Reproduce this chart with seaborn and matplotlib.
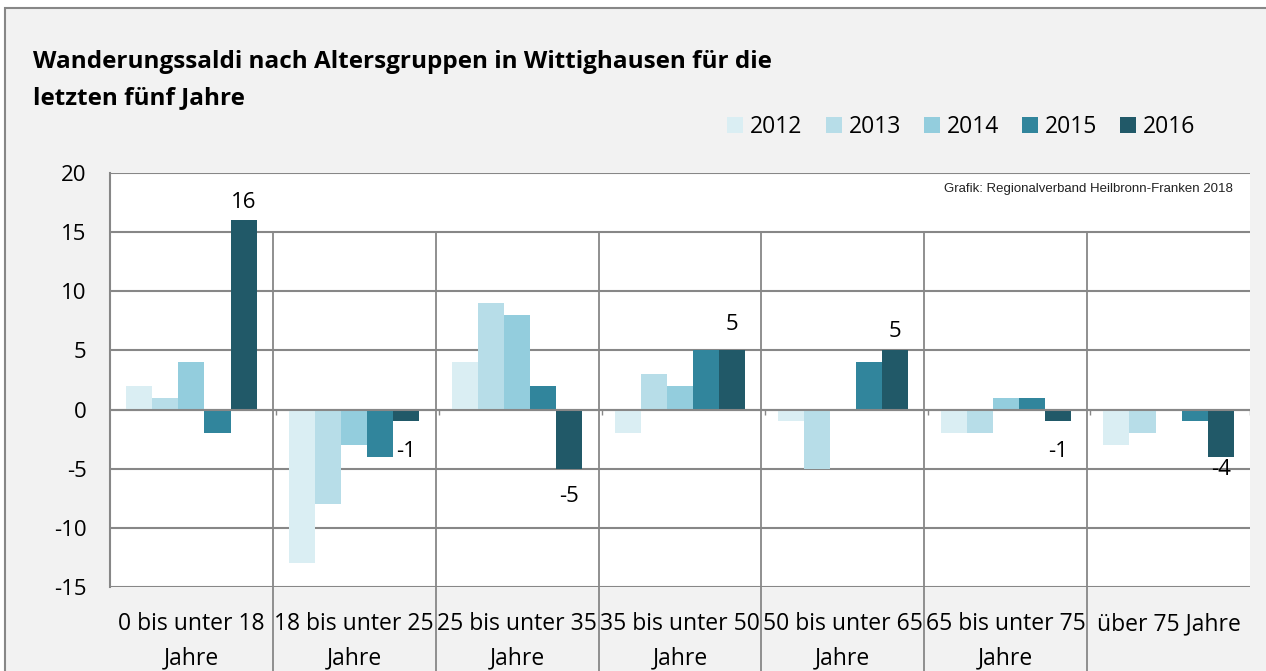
import seaborn as sns
import matplotlib.pyplot as plt
import pandas as pd
import numpy as np
from matplotlib.patches import Rectangle, Patch

# Data
groups = ["0 bis unter 18\nJahre", "18 bis unter 25\nJahre", "25 bis unter 35\nJahre",
          "35 bis unter 50\nJahre", "50 bis unter 65\nJahre", "65 bis unter 75\nJahre",
          "über 75 Jahre"]
years = ["2012", "2013", "2014", "2015", "2016"]
v2012 = [2, -13, 4, -2, -1, -2, -3]
v2013 = [1, -8, 9, 3, -5, -2, -2]
v2014 = [4, -3, 8, 2, 0, 1, 0]
v2015 = [-2, -4, 2, 5, 4, 1, -1]
v2016 = [16, -1, -5, 5, 5, -1, -4]
colors = ["#daeef3", "#b7dde8", "#93cddd", "#31859c", "#215968"]
# vertical pixel offsets of the 2016 value labels (as placed in the original)
label_offsets = [18, -30, -28, 26, 19, -30, -13]

rows = []
for year, vals in zip(years, [v2012, v2013, v2014, v2015, v2016]):
    for g, v in zip(groups, vals):
        rows.append({"Gruppe": g, "Jahr": year, "Saldo": v})
df = pd.DataFrame(rows)

sns.set_style("white")
plt.rcParams["font.family"] = ["Open Sans", "DejaVu Sans"]
plt.rcParams["axes.unicode_minus"] = False
plt.rcParams["text.color"] = "black"
plt.rcParams["xtick.labelcolor"] = "black"
plt.rcParams["ytick.labelcolor"] = "black"

grid_col = "#878787"

fig = plt.figure(figsize=(12.66, 6.71), dpi=100, facecolor="white")
fig.add_artist(Rectangle((5 / 1266, -0.1), 1.2, 1.1 - 8 / 671,
                         transform=fig.transFigure, facecolor="#f2f2f2",
                         edgecolor=grid_col, linewidth=1.5, zorder=-10))
ax = fig.add_axes([110 / 1266, 84 / 671, 1140 / 1266, 414 / 671])
ax.set_facecolor("white")

sns.barplot(data=df, x="Gruppe", y="Saldo", hue="Jahr", palette=colors,
            saturation=1, width=0.8, linewidth=0, ax=ax, legend=False, zorder=3)

ax.set_ylim(-15, 20)
ax.set_xlim(-0.5, len(groups) - 0.5)
ax.set_yticks(range(-15, 21, 5))
ax.yaxis.grid(True, color=grid_col, linewidth=1.5, zorder=0)
ax.set_axisbelow(True)
ax.axhline(0, color=grid_col, linewidth=1.5, zorder=4)

for s in ["top", "right", "bottom"]:
    ax.spines[s].set_visible(False)
ax.spines["left"].set_color(grid_col)
ax.spines["left"].set_linewidth(1.5)

# category separators (extend below the plot as in the original)
for b in np.arange(0.5, len(groups) - 0.5, 1):
    ax.vlines(b, -23, 15, color=grid_col, linewidth=1.3, clip_on=False, zorder=2)
    ax.vlines(b + 0.02, -0.45, 0, color=grid_col, linewidth=1.0, zorder=4)
ax.vlines(len(groups) - 0.5, -0.45, 0, color=grid_col, linewidth=1.0, zorder=4)

ax.tick_params(axis="y", length=7, color=grid_col, width=1.5, pad=10, labelsize=16)
ax.tick_params(axis="x", length=0, pad=18, labelsize=16.5)
for lab in ax.get_xticklabels():
    lab.set_linespacing(1.55)
ax.set_xlabel("")
ax.set_ylabel("")

# value labels for 2016
bars2016 = ax.containers[-1]
for patch, val, off in zip(bars2016.patches, v2016, label_offsets):
    ax.annotate(str(val), (patch.get_x() + patch.get_width() / 2, val),
                xytext=(0, off), textcoords="offset pixels",
                ha="center", va="center", fontsize=16, zorder=5)

# title
fig.text(33 / 1266, 1 - 50 / 671,
         "Wanderungssaldi nach Altersgruppen in Wittighausen für die\nletzten fünf Jahre",
         ha="left", va="top", fontsize=17.5, fontweight="bold", linespacing=1.68)

# legend
handles = [Patch(facecolor=c, edgecolor="none") for c in colors]
fig.legend(handles, years, loc="center right", bbox_to_anchor=(1216 / 1266, 1 - 127 / 671),
           ncol=5, frameon=False, fontsize=16.5, handlelength=0.7, handleheight=0.7,
           handletextpad=0.3, columnspacing=1.0)

# source note
ax.text(0.985, 0.962, "Grafik: Regionalverband Heilbronn-Franken 2018",
        transform=ax.transAxes, ha="right", va="center", fontsize=9.5,
        family=["Liberation Sans", "DejaVu Sans"], color="#222222")

fig.savefig("out.png", dpi=100, facecolor=fig.get_facecolor())
plt.close(fig)
